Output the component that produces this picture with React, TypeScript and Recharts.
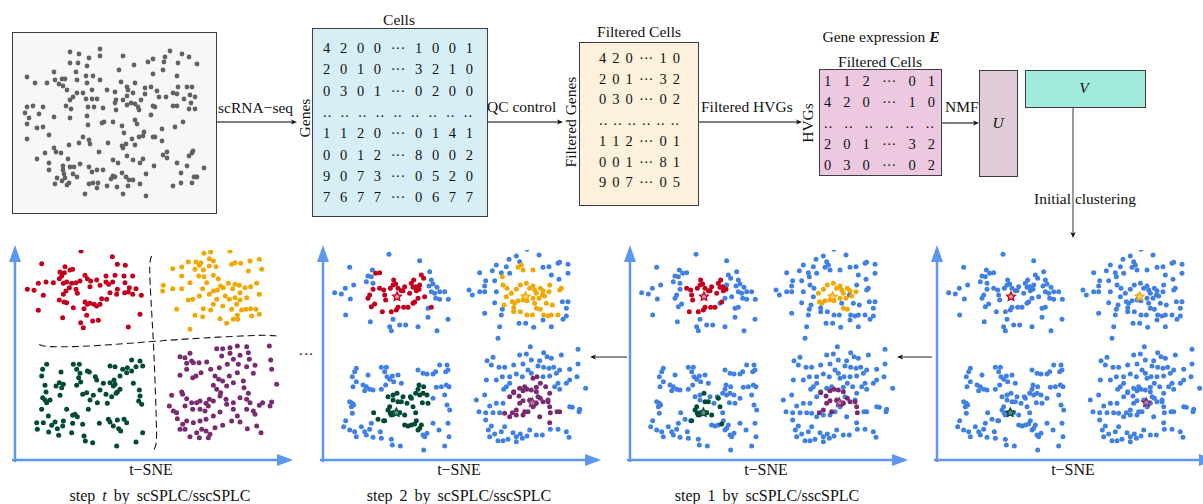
import React from "react";
import { ScatterChart, Scatter, XAxis, YAxis, ReferenceDot, ReferenceLine } from "recharts";

const FONT = "'Liberation Serif', 'Times New Roman', serif";
const RED = "#c2001d";
const ORANGE = "#f0a800";
const GREEN = "#004a37";
const PURPLE = "#7a2a70";
const BLUE = "#3f80e2";
const AXIS = "#5c96ee";
const GRAYDOT = "#626262";

type P = [number, number];
type L = [number, number, number];

// ---------- raw cells (top-left box), page-like t-SNE units ----------
const rawCells: P[] = [
  [70,52],[79,54],[89,58],[100,49],[100,56],[123,56],[148,62],[153,59],[165,57],[164,62],[170,51],[182,54],[189,57],[197,64],[178,63],
  [177,76],[163,70],[153,74],[134,65],[119,70],[70,63],[78,63],[87,66],[76,72],[86,76],[93,76],[54,72],[27,77],[35,83],[47,83],[55,80],
  [62,79],[65,79],[59,84],[63,86],[67,90],[77,80],[87,83],[100,80],[92,90],[83,93],[77,93],[70,100],[73,97],[86,99],[92,99],[97,99],
  [107,90],[115,92],[121,82],[127,87],[128,90],[135,83],[133,93],[127,96],[123,100],[116,100],[115,103],[131,103],[135,104],[138,107],
  [141,100],[145,88],[145,94],[151,87],[157,91],[159,97],[166,97],[173,93],[177,94],[178,87],[184,99],[187,87],[192,87],[190,95],[195,97],
  [191,103],[195,109],[189,109],[173,106],[177,106],[153,106],[155,107],[151,115],[139,110],[127,105],[116,110],[103,108],[94,107],[88,107],
  [87,116],[88,125],[70,118],[71,109],[66,106],[54,117],[43,107],[39,114],[33,106],[27,107],[25,113],[29,118],[27,124],[37,128],[43,127],
  [49,135],[27,139],[104,122],[113,122],[122,126],[124,133],[135,120],[137,124],[132,139],[139,137],[144,132],[143,136],[153,137],[155,137],
  [162,129],[162,141],[175,127],[183,122],[83,137],[89,140],[90,144],[79,143],[69,145],[108,143],[122,146],[126,144],[135,145],[123,148],
  [99,152],[54,148],[56,152],[61,153],[68,159],[37,159],[49,163],[49,170],[63,166],[70,167],[74,167],[63,170],[80,164],[89,167],[92,172],
  [97,170],[103,170],[113,160],[118,163],[127,156],[133,160],[140,163],[143,159],[154,166],[163,155],[167,158],[167,152],[177,163],[187,166],
  [189,156],[192,153],[193,151],[204,168],[181,173],[196,177],[197,177],[194,177],[192,183],[181,183],[173,186],[146,174],[140,184],[146,196],
  [123,194],[117,187],[113,176],[111,179],[115,177],[122,173],[126,177],[129,180],[133,180],[128,186],[107,186],[98,183],[97,188],[93,183],
  [85,194],[77,177],[73,174],[69,183],[67,185],[65,178],[62,181],[57,178],[55,184],[64,174],[89,184],[45,153],[102,123]
];

// ---------- step t clusters ----------
const tRed: P[] = [
  [243,65],[125,103],[195,112],[210,122],[180,128],[193,130],[218,120],[337,82],[352,105],[376,108],[82,180],[102,183],[115,162],[138,158],
  [160,160],[178,148],[185,140],[190,162],[200,158],[215,162],[228,160],[240,155],[255,138],[262,148],[272,155],[290,152],[300,168],[318,158],
  [326,165],[338,158],[318,140],[345,138],[372,140],[375,160],[398,140],[388,175],[408,178],[398,195],[424,198],[385,188],[374,190],[352,180],
  [330,190],[320,210],[305,208],[290,230],[270,222],[262,225],[252,238],[232,192],[228,180],[208,175],[198,185],[190,195],[178,212],[192,218],
  [200,220],[130,198],[115,243],[220,235],[255,218],[282,225],[300,225],[188,265],[242,280],[250,295],[278,275],[295,273],[260,258],[385,293],
  [420,255],[350,195],[270,172]
];
const tOrange: P[] = [
  [660,50],[612,72],[632,68],[690,65],[628,88],[640,95],[565,98],[588,98],[598,108],[603,100],[610,122],[585,120],[545,113],[518,118],[628,110],
  [648,112],[695,105],[705,100],[722,102],[750,95],[778,90],[785,120],[745,125],[570,160],[545,140],[596,140],[612,142],[640,138],[655,148],
  [662,170],[620,160],[608,178],[598,200],[628,195],[640,185],[652,182],[670,175],[685,162],[705,165],[718,168],[735,175],[752,172],[770,162],
  [698,178],[676,200],[688,210],[705,205],[720,212],[740,205],[778,195],[710,225],[725,242],[738,240],[752,238],[768,240],[778,255],[755,260],
  [712,258],[700,270],[660,268],[632,242],[610,238],[578,210],[565,212],[530,240],[608,262],[680,282],[713,270],[490,168],[488,185],[518,178],
  [545,178],[570,300],[650,210],[668,230],[720,190],[695,240],[640,225],[585,258]
];
const tGreen: P[] = [
  [140,405],[128,420],[125,440],[183,428],[220,405],[238,405],[230,420],[240,432],[262,425],[268,428],[286,442],[330,410],[345,412],[368,420],
  [382,415],[395,392],[420,395],[428,410],[408,412],[395,425],[380,430],[360,440],[342,452],[330,460],[345,465],[290,452],[236,445],[242,458],
  [230,468],[178,460],[168,470],[185,475],[190,465],[135,468],[138,488],[128,505],[135,512],[140,520],[150,512],[180,498],[125,540],[145,560],
  [165,578],[130,580],[110,580],[112,600],[146,608],[172,598],[176,618],[155,588],[190,575],[188,590],[200,540],[218,558],[225,555],[232,562],
  [218,582],[215,610],[252,620],[256,635],[278,640],[248,585],[265,540],[298,582],[270,512],[280,498],[292,520],[318,495],[322,522],[335,502],
  [348,492],[360,480],[340,470],[352,488],[310,462],[260,490],[248,495],[300,482],[400,462],[418,482],[420,500],[416,515],[425,525],[428,610],
  [408,638],[350,650],[325,570],[330,578],[340,590],[356,598],[362,605],[372,570],[380,580],[352,572]
];
const tPurple: P[] = [
  [540,382],[555,385],[570,372],[575,395],[560,402],[580,400],[597,400],[620,398],[650,358],[668,358],[690,355],[712,350],[740,352],[808,350],
  [690,372],[700,390],[665,380],[682,405],[720,378],[745,370],[748,390],[715,405],[740,412],[760,432],[812,392],[765,408],[658,415],[632,420],
  [603,430],[588,440],[578,445],[560,420],[540,438],[645,440],[656,450],[668,455],[680,470],[640,468],[650,480],[662,490],[688,440],[700,460],
  [712,430],[730,455],[732,475],[745,492],[750,520],[720,505],[700,520],[678,510],[628,510],[618,522],[600,515],[590,520],[575,520],[560,508],
  [548,495],[545,488],[515,498],[508,530],[520,545],[530,550],[555,530],[578,540],[600,540],[615,545],[625,530],[640,515],[660,500],[680,525],
  [700,540],[712,560],[695,575],[660,548],[640,560],[618,570],[600,575],[580,580],[560,575],[548,585],[540,600],[555,600],[570,622],[590,610],
  [605,600],[618,605],[630,615],[645,595],[668,588],[720,578],[742,598],[770,590],[783,610],[810,530],[815,518],[830,465],[815,420],[788,520],
  [778,528],[760,545],[765,555],[740,540],[740,510],[532,568],[598,625],[625,625]
];
const tBorderV: P[] = [[455,80],[448,95],[450,160],[455,250],[460,330],[465,450],[470,600],[470,650],[458,665]];
const tBorderH: P[] = [[118,345],[128,352],[200,353],[300,349],[460,336],[600,326],[800,316],[830,320]];

// ---------- shared cells for steps 1, 2 and initial: [x, y, level] ----------
// level 1: assigned at step 1, level 2: added at step 2, level 0: unassigned
const cRed: L[] = [
  [258,73,0],[140,112,0],[208,120,0],[195,138,0],[205,140,0],[190,155,0],[210,160,0],[152,165,0],[127,175,0],[95,188,0],[115,192,0],[142,207,0],
  [128,255,0],[350,92,0],[380,125,0],[385,150,0],[390,162,0],[378,168,0],[402,172,0],[385,185,0],[395,190,0],[410,185,0],[425,185,0],[398,205,0],
  [410,208,0],[436,208,0],[375,235,0],[375,262,0],[435,268,0],[345,290,0],[402,302,0],[308,285,0],[290,285,0],[260,290,0],[265,302,0],[270,268,0],
  [202,275,0],
  [218,130,2],[230,128,2],[210,178,2],[215,222,2],[205,230,2],[200,195,2],[195,205,2],[350,165,2],[345,205,2],[365,200,2],[330,220,2],[385,232,2],
  [362,145,2],[355,135,2],
  [230,175,1],[242,180,1],[245,195,1],[248,210,1],[262,175,1],[270,165,1],[272,150,1],[278,162,1],[285,175,1],[295,182,1],[305,170,1],[325,160,1],
  [330,172,1],[338,170,1],[332,150,1],[348,178,1],[340,182,1],[320,190,1],[335,216,1],[315,232,1],[302,232,1],[285,232,1],[280,240,1],[265,245,1],
  [238,245,1],[300,182,1]
];
const cOrange: L[] = [
  [672,58,0],[708,75,0],[640,78,0],[618,88,0],[650,95,0],[610,110,0],[580,105,0],[568,122,0],[595,128,0],[620,130,0],[548,152,0],[530,128,0],
  [575,152,0],[545,168,0],[498,180,0],[508,195,0],[530,185,0],[545,185,0],[580,185,0],[720,112,0],[738,110,0],[765,100,0],[770,97,0],[795,103,0],
  [795,130,0],[745,135,0],[768,148,0],[575,218,0],[598,238,0],[648,280,0],[668,280,0],[692,292,0],[790,258,0],[780,268,0],[790,235,0],[795,215,0],
  [778,215,0],[720,270,0],[745,290,0],[590,290,0],[585,325,0],[545,250,0],[595,255,0],
  [655,105,2],[645,112,2],[660,120,2],[690,120,2],[598,140,2],[600,165,2],[612,175,2],[610,200,2],[603,225,2],[632,233,2],[632,245,2],[652,245,2],
  [672,255,2],[688,255,2],[722,255,2],[735,258,2],[745,255,2],[765,255,2],[748,225,2],[730,220,2],[695,220,2],[718,195,2],[740,165,2],[770,180,2],
  [775,175,2],
  [625,190,1],[640,178,1],[652,165,1],[670,160,1],[680,175,1],[690,168,1],[695,180,1],[700,190,1],[712,175,1],[720,182,1],[738,185,1],[725,198,1],
  [708,205,1],[690,205,1],[672,212,1],[660,210,1],[645,212,1],[628,215,1],[635,220,1],[700,235,1],[712,238,1],[665,198,1]
];
const cGreen: L[] = [
  [160,415,0],[155,425,0],[148,440,0],[195,435,0],[235,412,0],[250,412,0],[245,425,0],[252,440,0],[268,438,0],[285,435,0],[272,455,0],[295,460,0],
  [345,420,0],[360,430,0],[372,432,0],[390,432,0],[398,425,0],[410,405,0],[432,405,0],[435,420,0],[428,425,0],[180,465,0],[190,470,0],[200,478,0],
  [210,480,0],[185,482,0],[150,470,0],[160,455,0],[140,515,0],[148,520,0],[145,530,0],[152,525,0],[128,572,0],[122,590,0],[140,600,0],[155,605,0],
  [160,620,0],[175,590,0],[185,605,0],[200,598,0],[205,580,0],[190,615,0],[210,622,0],[232,605,0],[235,625,0],[265,628,0],[268,645,0],[292,648,0],
  [362,660,0],[425,648,0],[400,472,0],[415,470,0],[430,465,0],[438,470,0],[425,495,0],[432,525,0],[440,540,0],[435,580,0],[438,620,0],[408,600,0],
  [390,580,0],[360,615,0],[372,610,0],[365,620,0],[235,478,0],[248,465,0],[260,448,0],[148,550,0],[390,505,0],
  [212,548,2],[270,495,2],[255,500,2],[270,510,2],[300,500,2],[322,500,2],[312,520,2],[338,548,2],[358,518,2],[375,520,2],[348,465,2],[362,470,2],
  [345,478,2],[338,490,2],[350,495,2],[360,490,2],[372,495,2],[242,572,2],[225,568,2],[305,585,2],[315,588,2],[325,585,2],[340,572,2],[350,595,2],
  [355,585,2],[345,600,2],
  [255,540,1],[262,550,1],[265,555,1],[260,530,1],[282,490,1],[285,515,1],[295,515,1],[290,548,1],[305,555,1],[325,505,1],[330,530,1],[335,582,1],
  [245,572,1],[275,548,1]
];
const cPurple: L[] = [
  [682,350,0],[650,375,0],[670,372,0],[722,368,0],[732,380,0],[745,385,0],[775,375,0],[825,358,0],[570,382,0],[552,392,0],[565,405,0],[588,412,0],
  [605,412,0],[632,405,0],[660,402,0],[685,390,0],[710,392,0],[705,408,0],[722,412,0],[738,415,0],[752,412,0],[770,420,0],[800,418,0],[825,402,0],
  [822,440,0],[580,450,0],[550,450,0],[598,440,0],[620,440,0],[640,432,0],[658,440,0],[675,420,0],[685,430,0],[720,440,0],[740,438,0],[760,430,0],
  [765,460,0],[755,470,0],[770,478,0],[790,460,0],[800,450,0],[848,475,0],[620,460,0],[610,470,0],[602,478,0],[600,520,0],[580,520,0],[560,528,0],
  [545,495,0],[520,510,0],[528,545,0],[548,548,0],[570,548,0],[590,548,0],[800,530,0],[808,532,0],[828,545,0],[830,538,0],[565,588,0],[548,570,0],
  [556,600,0],[560,620,0],[575,612,0],[595,605,0],[605,590,0],[630,608,0],[640,620,0],[658,625,0],[652,612,0],[680,600,0],[700,615,0],[718,615,0],
  [742,598,0],[765,598,0],[790,605,0],[798,622,0],[600,632,0],[615,628,0],[585,632,0],[640,635,0],[672,618,0],
  [632,485,2],[650,475,2],[665,470,2],[700,472,2],[712,460,2],[728,470,2],[740,490,2],[735,510,2],[705,500,2],[620,500,2],[640,555,2],[660,555,2],
  [675,545,2],[690,530,2],[762,545,2],[770,545,2],[690,445,2],[702,440,2],[620,560,2],[605,550,2],[710,560,2],[740,578,2],
  [632,488,1],[648,498,1],[660,482,1],[672,478,1],[685,480,1],[700,485,1],[712,505,1],[720,515,1],[735,515,1],[740,530,1],[742,548,1],[700,520,1],
  [680,510,1],[660,512,1],[650,520,1],[640,540,1],[628,548,1],[665,545,1],[695,522,1]
];
const centroidX = [282, 668, 280, 688];
const centroidY = [200, 200, 548, 518];
const centroidColor = [RED, ORANGE, GREEN, PURPLE];
const centroidFill = ["#e98c9b", "#f8d27a", "#5f8f80", "#b57dab"];

// ---------- matrices ----------
const countMatrix = [
  "4 2 0 0 ··· 1 0 0 1",
  "2 0 1 0 ··· 3 2 1 0",
  "0 3 0 1 ··· 0 2 0 0",
  ".. .. .. .. .. .. .. .. ..",
  "1 1 2 0 ··· 0 1 4 1",
  "0 0 1 2 ··· 8 0 0 2",
  "9 0 7 3 ··· 0 5 2 0",
  "7 6 7 7 ··· 0 6 7 7",
];
const filteredMatrix = [
  "4 2 0 ··· 1 0",
  "2 0 1 ··· 3 2",
  "0 3 0 ··· 0 2",
  ".. .. .. .. .. ..",
  "1 1 2 ··· 0 1",
  "0 0 1 ··· 8 1",
  "9 0 7 ··· 0 5",
];
const hvgMatrix = [
  "1 1 2 ··· 0 1",
  "4 2 0 ··· 1 0",
  ".. .. .. .. .. ..",
  "2 0 1 ··· 3 2",
  "0 3 0 ··· 0 2",
];

const toXY = (arr: P[]) => arr.map(([x, y]) => ({ x, y }));

const dot = (color: string, r = 2.5) => (props: any) =>
  props.cx == null ? <g /> : <circle cx={props.cx} cy={props.cy} r={r} fill={color} />;

const starShape = (props: any) => {
  const { cx, cy, payload } = props;
  if (cx == null) return <g />;
  const pts: string[] = [];
  for (let i = 0; i < 10; i++) {
    const rr = i % 2 === 0 ? 4.6 : 2.3;
    const a = -Math.PI / 2 + (i * Math.PI) / 5;
    pts.push(`${cx + rr * Math.cos(a)},${cy + rr * Math.sin(a)}`);
  }
  return <polygon points={pts.join(" ")} fill={payload.fill} stroke={payload.stroke} strokeWidth={1.3} />;
};

const noShape = () => <g />;

const xArrow = (props: any) => {
  const { cx, cy } = props;
  return <polygon points={`${cx - 13},${cy - 6} ${cx - 13},${cy + 6} ${cx + 3},${cy}`} fill={AXIS} />;
};
const yArrow = (props: any) => {
  const { cx, cy } = props;
  return <polygon points={`${cx - 6},${cy + 12} ${cx + 6},${cy + 12} ${cx},${cy - 5}`} fill={AXIS} />;
};

type SeriesDef = { data: { x: number; y: number }[]; color: string };

function Panel(props: {
  left: number;
  xDom: [number, number];
  yDom: [number, number];
  series: SeriesDef[];
  stars?: boolean;
  borders?: P[][];
}) {
  const { left, xDom, yDom, series, stars, borders } = props;
  const starData = centroidX.map((x, i) => ({ x, y: centroidY[i], fill: centroidFill[i], stroke: centroidColor[i] }));
  return (
    <div style={{ position: "absolute", left, top: 245 }}>
      <ScatterChart width={300} height={260} margin={{ top: 5, right: 15, bottom: 45, left: 10 }}>
        <XAxis type="number" dataKey="x" domain={xDom} allowDataOverflow hide height={0} />
        <YAxis type="number" dataKey="y" domain={yDom} reversed allowDataOverflow hide width={0} />
        <ReferenceLine
          segment={[{ x: xDom[0] - 9, y: yDom[1] }, { x: xDom[1], y: yDom[1] }]}
          stroke={AXIS}
          strokeWidth={2.5}
          ifOverflow="visible"
          label={{ value: "t−SNE", position: "bottom", offset: 4, fontFamily: FONT, fontSize: 16, fill: "#111" }}
        />
        <ReferenceLine
          segment={[{ x: xDom[0], y: yDom[1] + 6 }, { x: xDom[0], y: yDom[0] }]}
          stroke={AXIS}
          strokeWidth={2.5}
          ifOverflow="visible"
        />
        {series.map((s, i) => (
          <Scatter key={i} data={s.data} shape={dot(s.color)} isAnimationActive={false} />
        ))}
        {(borders || []).map((b, i) => (
          <Scatter
            key={"b" + i}
            data={toXY(b)}
            shape={noShape}
            line={{ stroke: "#1a1a1a", strokeWidth: 1.1, strokeDasharray: "7 4" }}
            lineJointType="basis"
            isAnimationActive={false}
          />
        ))}
        {stars && <Scatter data={starData} shape={starShape} isAnimationActive={false} />}
        <ReferenceDot x={xDom[1]} y={yDom[1]} r={0} shape={xArrow} ifOverflow="visible" />
        <ReferenceDot x={xDom[0]} y={yDom[0]} r={0} shape={yArrow} ifOverflow="visible" />
      </ScatterChart>
    </div>
  );
}

const SHARED_X: [number, number] = [60, 885];
const SHARED_Y: [number, number] = [60, 690];
const clusters: { data: L[]; color: string }[] = [
  { data: cRed, color: RED },
  { data: cOrange, color: ORANGE },
  { data: cGreen, color: GREEN },
  { data: cPurple, color: PURPLE },
];

function sharedSeries(maxLevel: number): SeriesDef[] {
  const blue: { x: number; y: number }[] = [];
  const colored: SeriesDef[] = [];
  clusters.forEach((c) => {
    const col: { x: number; y: number }[] = [];
    c.data.forEach(([x, y, l]) => {
      if (l >= 1 && l <= maxLevel) col.push({ x, y });
      else blue.push({ x, y });
    });
    colored.push({ data: col, color: c.color });
  });
  return [{ data: blue, color: BLUE }, ...colored];
}

function Matrix(props: { rows: string[]; left: number; width: number; top0: number; step: number; size?: number }) {
  const { rows, left, width, top0, step, size = 14.5 } = props;
  return (
    <>
      {rows.map((r, i) => (
        <div
          key={i}
          style={{
            position: "absolute",
            left,
            width,
            top: top0 + i * step - 9,
            height: 18,
            lineHeight: "18px",
            fontSize: size,
            display: "flex",
            justifyContent: "space-between",
            color: "#111",
          }}
        >
          {r.split(" ").map((t, j) => (
            <span key={j} style={{ letterSpacing: t === ".." ? 1 : 0 }}>{t}</span>
          ))}
        </div>
      ))}
    </>
  );
}

const T = (props: { x: number; y: number; children: any; size?: number; anchor?: "left" | "center"; rotate?: boolean; ws?: number }) => {
  const { x, y, children, size = 15.5, anchor = "center", rotate, ws = 0 } = props;
  const style: any = {
    position: "absolute",
    left: x,
    top: y,
    fontSize: size,
    whiteSpace: "nowrap",
    wordSpacing: ws,
    color: "#111",
    lineHeight: "18px",
    transform:
      (anchor === "center" ? "translate(-50%, -50%)" : "translate(0, -50%)") + (rotate ? " rotate(-90deg)" : ""),
  };
  return <div style={style}>{children}</div>;
};

const box = (left: number, top: number, w: number, h: number, bg: string): any => ({
  position: "absolute",
  left,
  top,
  width: w,
  height: h,
  background: bg,
  border: "1.3px solid #3d3d3d",
  boxSizing: "border-box",
});

function Arrows() {
  const ln = "#555";
  const head = (x: number, y: number, dir: "r" | "l" | "d") => {
    if (dir === "r") return <polygon points={`${x},${y} ${x - 6},${y - 2.6} ${x - 4.5},${y} ${x - 6},${y + 2.6}`} fill="#111" />;
    if (dir === "l") return <polygon points={`${x},${y} ${x + 6},${y - 2.6} ${x + 4.5},${y} ${x + 6},${y + 2.6}`} fill="#111" />;
    return <polygon points={`${x},${y} ${x - 2.6},${y - 6} ${x},${y - 4.5} ${x + 2.6},${y - 6}`} fill="#111" />;
  };
  return (
    <svg width={1203} height={504} style={{ position: "absolute", left: 0, top: 0, pointerEvents: "none" }}>
      <line x1={217} y1={122} x2={295} y2={122} stroke={ln} strokeWidth={1.4} />
      {head(297, 122, "r")}
      <line x1={487} y1={122} x2={561} y2={122} stroke={ln} strokeWidth={1.4} />
      {head(563, 122, "r")}
      <line x1={698} y1={122} x2={800} y2={122} stroke={ln} strokeWidth={1.4} />
      {head(802, 122, "r")}
      <line x1={941} y1={123} x2={977} y2={123} stroke={ln} strokeWidth={1.4} />
      {head(979, 123, "r")}
      <line x1={1073} y1={107} x2={1073} y2={236} stroke={ln} strokeWidth={1.2} />
      {head(1073, 238, "d")}
      <line x1={627} y1={357} x2={592} y2={357} stroke="#222" strokeWidth={1.1} />
      {head(590, 357, "l")}
      <line x1={932} y1={357} x2={899} y2={357} stroke="#222" strokeWidth={1.1} />
      {head(897, 357, "l")}
    </svg>
  );
}

export default function App() {
  return (
    <div
      style={{
        position: "absolute",
        left: 0,
        top: 0,
        width: 1203,
        height: 504,
        overflow: "hidden",
        background: "#fff",
        fontFamily: FONT,
        color: "#111",
      }}
    >
      {/* raw cells box */}
      <div style={box(12, 32, 205, 182, "#f7f7f7")} />
      <div style={{ position: "absolute", left: 12, top: 32 }}>
        <ScatterChart width={205} height={182} margin={{ top: 0, right: 0, bottom: 0, left: 0 }}>
          <XAxis type="number" dataKey="x" domain={[12, 217]} hide height={0} />
          <YAxis type="number" dataKey="y" domain={[32, 214]} reversed hide width={0} />
          <Scatter data={toXY(rawCells)} shape={dot(GRAYDOT, 2.4)} isAnimationActive={false} />
        </ScatterChart>
      </div>

      {/* count matrix */}
      <div style={box(312, 28, 176, 189, "#d8eef6")} />
      <T x={399} y={20}>Cells</T>
      <T x={305} y={118} rotate>Genes</T>
      <Matrix rows={countMatrix} left={323} width={150} top0={48} step={21.3} />

      {/* filtered matrix */}
      <div style={box(579, 42, 120, 164, "#fdf0dc")} />
      <T x={639} y={32}>Filtered Cells</T>
      <T x={571} y={122} rotate>Filtered Genes</T>
      <Matrix rows={filteredMatrix} left={599} width={81} top0={58} step={20.7} />

      {/* HVG matrix */}
      <div style={box(819, 69, 123, 107, "#ecc9e1")} />
      <T x={881} y={37}>
        Gene expression <b><i>E</i></b>
      </T>
      <T x={880} y={62}>Filtered Cells</T>
      <T x={808} y={123} rotate>HVGs</T>
      <Matrix rows={hvgMatrix} left={824} width={111} top0={81} step={21} />

      {/* U and V */}
      <div style={box(979, 70, 39, 107, "#e0ccd9")} />
      <T x={998} y={123}><i>U</i></T>
      <div style={box(1025, 70, 121, 38, "#a2eadc")} />
      <T x={1084} y={88}><i>V</i></T>

      {/* arrow labels */}
      <T x={218} y={108} anchor="left">scRNA−seq</T>
      <T x={487} y={107} anchor="left">QC control</T>
      <T x={701} y={107} anchor="left">Filtered HVGs</T>
      <T x={945} y={107} anchor="left">NMF</T>
      <T x={1085} y={199}>Initial clustering</T>
      <T x={306} y={354}>···</T>

      <Arrows />

      {/* bottom panels */}
      <Panel
        left={5}
        xDom={[45, 870]}
        yDom={[62, 692]}
        series={[
          { data: toXY(tRed), color: RED },
          { data: toXY(tOrange), color: ORANGE },
          { data: toXY(tGreen), color: GREEN },
          { data: toXY(tPurple), color: PURPLE },
        ]}
        borders={[tBorderV, tBorderH]}
      />
      <Panel left={313} xDom={SHARED_X} yDom={SHARED_Y} series={sharedSeries(2)} stars />
      <Panel left={620} xDom={SHARED_X} yDom={SHARED_Y} series={sharedSeries(1)} stars />
      <Panel left={927} xDom={SHARED_X} yDom={SHARED_Y} series={sharedSeries(0)} stars />

      {/* captions */}
      <T x={160} y={496} size={16} ws={3}>step <i>t</i> by scSPLC/sscSPLC</T>
      <T x={459} y={496} size={16} ws={3}>step 2 by scSPLC/sscSPLC</T>
      <T x={767} y={496} size={16} ws={3}>step 1 by scSPLC/sscSPLC</T>
    </div>
  );
}
